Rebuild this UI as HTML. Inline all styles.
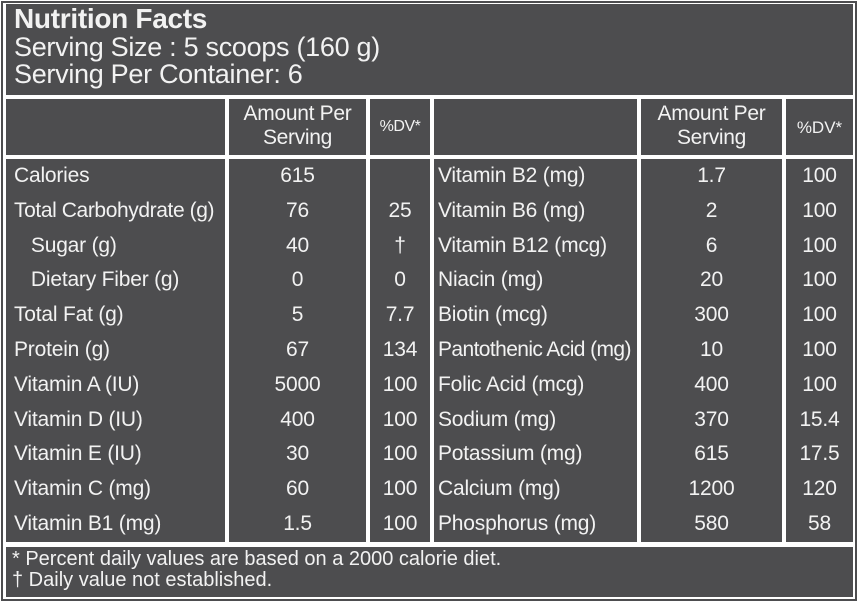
<!DOCTYPE html>
<html><head><meta charset="utf-8"><style>
*{margin:0;padding:0;box-sizing:border-box}
body{width:858px;height:602px;background:#fff;position:relative;overflow:hidden;font-family:"Liberation Sans",sans-serif;color:#f2f2f2}
.frame{position:absolute;left:1px;top:1px;width:856px;height:600px;border:2px solid #4d4d4f}
.c{position:absolute;background:#4d4d4f}
.t{position:absolute;white-space:nowrap}
.col{position:absolute;font-size:21px;letter-spacing:-0.2px}
.col div{height:34.8px;line-height:34.8px;white-space:nowrap}
.ctr{text-align:center}
</style></head><body>
<div class="frame"></div>
<div class="c" style="left:6px;top:4px;width:847px;height:91px"></div>
<div class="t" style="left:14px;top:4px;font-size:28px;font-weight:bold;line-height:30px;letter-spacing:-0.3px">Nutrition Facts</div>
<div class="t" style="left:14px;top:32px;font-size:27px;line-height:30px;letter-spacing:-0.3px">Serving Size : 5 scoops (160 g)</div>
<div class="t" style="left:14px;top:59px;font-size:27px;line-height:30px;letter-spacing:-0.3px">Serving Per Container: 6</div>

<div class="c" style="left:6px;top:99px;width:219px;height:56px"></div>
<div class="c" style="left:229px;top:99px;width:137px;height:56px"></div>
<div class="c" style="left:370px;top:99px;width:60px;height:56px"></div>
<div class="c" style="left:434px;top:99px;width:203px;height:56px"></div>
<div class="c" style="left:641px;top:99px;width:141px;height:56px"></div>
<div class="c" style="left:786px;top:99px;width:67px;height:56px"></div>
<div class="t ctr" style="left:229px;width:137px;top:102px;font-size:21px;line-height:24px;letter-spacing:-0.3px">Amount Per<br>Serving</div>
<div class="t ctr" style="left:370px;width:60px;top:118px;font-size:16px;letter-spacing:-0.5px">%DV*</div>
<div class="t ctr" style="left:641px;width:141px;top:102px;font-size:21px;line-height:24px;letter-spacing:-0.3px">Amount Per<br>Serving</div>
<div class="t ctr" style="left:786px;width:67px;top:118px;font-size:17px">%DV*</div>

<div class="c" style="left:6px;top:159px;width:219px;height:383px"></div>
<div class="c" style="left:229px;top:159px;width:137px;height:383px"></div>
<div class="c" style="left:370px;top:159px;width:60px;height:383px"></div>
<div class="c" style="left:434px;top:159px;width:203px;height:383px"></div>
<div class="c" style="left:641px;top:159px;width:141px;height:383px"></div>
<div class="c" style="left:786px;top:159px;width:67px;height:383px"></div>

<div class="col" style="left:14px;top:159px;width:215px">
<div>Calories</div><div style="letter-spacing:-0.4px">Total Carbohydrate (g)</div><div>&nbsp;&nbsp;&nbsp;Sugar (g)</div><div>&nbsp;&nbsp;&nbsp;Dietary Fiber (g)</div><div>Total Fat (g)</div><div>Protein (g)</div><div>Vitamin A (IU)</div><div>Vitamin D (IU)</div><div>Vitamin E (IU)</div><div>Vitamin C (mg)</div><div>Vitamin B1 (mg)</div></div>
<div class="col ctr" style="left:229px;top:159px;width:137px">
<div>615</div><div>76</div><div>40</div><div>0</div><div>5</div><div>67</div><div>5000</div><div>400</div><div>30</div><div>60</div><div>1.5</div></div>
<div class="col ctr" style="left:370px;top:159px;width:60px">
<div>&nbsp;</div><div>25</div><div>†</div><div>0</div><div>7.7</div><div>134</div><div>100</div><div>100</div><div>100</div><div>100</div><div>100</div></div>
<div class="col" style="left:438px;top:159px;width:200px">
<div>Vitamin B2 (mg)</div><div>Vitamin B6 (mg)</div><div>Vitamin B12 (mcg)</div><div>Niacin (mg)</div><div>Biotin (mcg)</div><div style="letter-spacing:-0.6px">Pantothenic Acid (mg)</div><div>Folic Acid (mcg)</div><div>Sodium (mg)</div><div>Potassium (mg)</div><div>Calcium (mg)</div><div>Phosphorus (mg)</div></div>
<div class="col ctr" style="left:641px;top:159px;width:141px">
<div>1.7</div><div>2</div><div>6</div><div>20</div><div>300</div><div>10</div><div>400</div><div>370</div><div>615</div><div>1200</div><div>580</div></div>
<div class="col ctr" style="left:786px;top:159px;width:67px">
<div>100</div><div>100</div><div>100</div><div>100</div><div>100</div><div>100</div><div>100</div><div>15.4</div><div>17.5</div><div>120</div><div>58</div></div>

<div class="c" style="left:6px;top:547px;width:847px;height:50px"></div>
<div class="t" style="left:12px;top:549px;font-size:20px;line-height:21px;letter-spacing:0px">* Percent daily values are based on a 2000 calorie diet.<br>† Daily value not established.</div>
</body></html>
